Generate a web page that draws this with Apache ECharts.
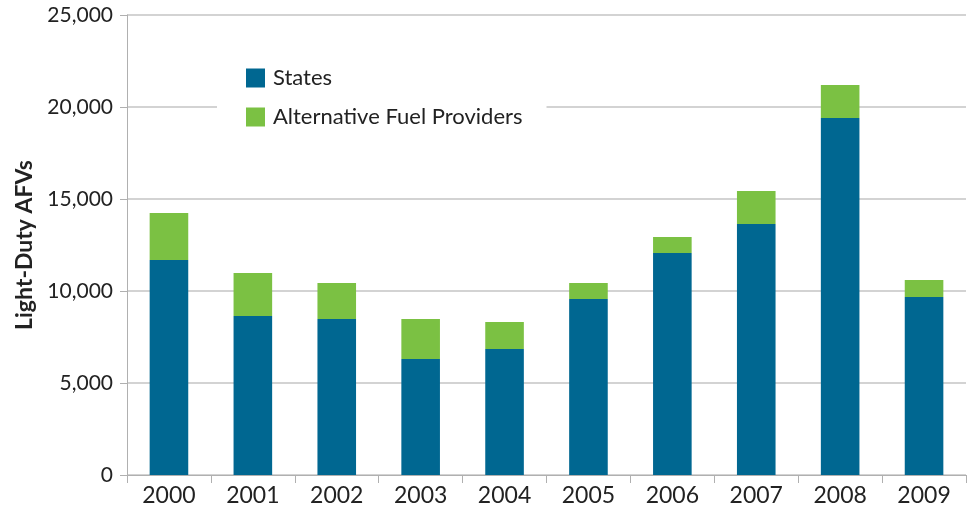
<!DOCTYPE html>
<html>
<head>
<meta charset="utf-8">
<script src="https://cdn.jsdelivr.net/npm/echarts@6/dist/echarts.min.js"></script>
<style>
  html, body { margin: 0; padding: 0; background: #fff; }
  #chart { width: 974px; height: 510px; }
</style>
</head>
<body>
<div id="chart"></div>
<script>
const years = ['2000', '2001', '2002', '2003', '2004', '2005', '2006', '2007', '2008', '2009']
const states = [11680, 8640, 8480, 6300, 6850, 9570, 12070, 13640, 19400, 9670]
const fuelProviders = [2560, 2340, 1950, 2180, 1470, 860, 860, 1790, 1800, 930]
const yTicks = [0, 5000, 10000, 15000, 20000, 25000]

const font = 'Lato, "Open Sans", sans-serif'
const chart = echarts.init(document.getElementById('chart'))

chart.setOption({
  animation: false,
  textStyle: { fontFamily: font },
  grid: { left: 127, right: 8, top: 15, bottom: 35 },
  color: ['#006791', '#7bc143'],
  legend: {
    orient: 'vertical',
    left: 217,
    top: 55,
    padding: [12, 24, 12, 29],
    backgroundColor: '#fff',
    itemWidth: 19,
    itemHeight: 19,
    itemGap: 17,
    icon: 'rect',
    textStyle: { fontSize: 22, color: '#222', fontFamily: font, padding: [0, 0, 0, 3] },
    data: ['States', 'Alternative Fuel Providers']
  },
  xAxis: {
    type: 'category',
    data: years,
    axisLine: { lineStyle: { color: '#b0b0b0', width: 1 } },
    axisTick: { show: true, length: 8, lineStyle: { color: '#b0b0b0' } },
    axisLabel: { fontSize: 23, color: '#222', margin: 9 }
  },
  yAxis: {
    type: 'value',
    min: yTicks[0],
    max: yTicks[yTicks.length - 1],
    interval: yTicks[1] - yTicks[0],
    name: 'Light-Duty AFVs',
    nameLocation: 'middle',
    nameGap: 88,
    nameTextStyle: { fontSize: 23, fontWeight: 'bold', color: '#222' },
    axisLine: { show: true, lineStyle: { color: '#b0b0b0', width: 1 } },
    axisTick: { show: true, length: 7, lineStyle: { color: '#b0b0b0' } },
    axisLabel: {
      fontSize: 21,
      color: '#222',
      margin: 14,
      formatter: v => v.toLocaleString('en-US')
    },
    splitLine: { lineStyle: { color: '#c4c4c4', width: 1.5 } }
  },
  series: [
    {
      name: 'States',
      type: 'bar',
      stack: 'total',
      barWidth: '46%',
      data: states
    },
    {
      name: 'Alternative Fuel Providers',
      type: 'bar',
      stack: 'total',
      barWidth: '46%',
      data: fuelProviders
    }
  ]
})
</script>
</body>
</html>
